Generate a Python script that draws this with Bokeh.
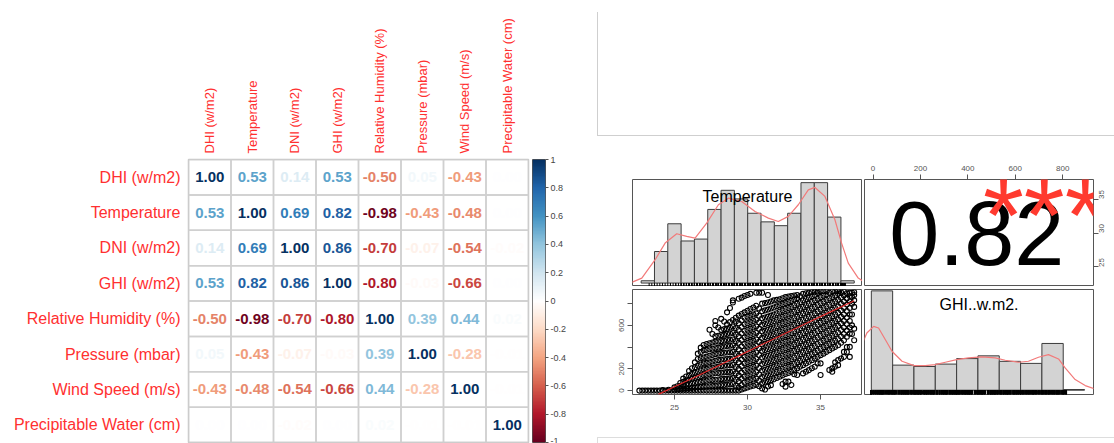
import math
import numpy as np
from bokeh.plotting import figure
from bokeh.models import (FactorRange, Range1d, LinearAxis, FixedTicker,
                          LinearColorMapper, ColumnDataSource, Div, Spacer)
from bokeh.layouts import row, column
from bokeh.transform import linear_cmap
from bokeh.core.properties import value
from bokeh.embed import file_html
from bokeh.resources import INLINE

FONT = "Liberation Sans"
RED = "#FF3030"

# ---------------- data: correlation matrix ----------------
variables = ["DHI (w/m2)", "Temperature", "DNI (w/m2)", "GHI (w/m2)",
             "Relative Humidity (%)", "Pressure (mbar)", "Wind Speed (m/s)",
             "Precipitable Water (cm)"]
corr_dhi = [1.00, 0.53, 0.14, 0.53, -0.50, 0.05, -0.43, 0.00]
corr_temp = [0.53, 1.00, 0.69, 0.82, -0.98, -0.43, -0.48, 0.00]
corr_dni = [0.14, 0.69, 1.00, 0.86, -0.70, -0.07, -0.54, -0.02]
corr_ghi = [0.53, 0.82, 0.86, 1.00, -0.80, -0.03, -0.66, 0.00]
corr_rh = [-0.50, -0.98, -0.70, -0.80, 1.00, 0.39, 0.44, 0.02]
corr_pres = [0.05, -0.43, -0.07, -0.03, 0.39, 1.00, -0.28, -0.01]
corr_wind = [-0.43, -0.48, -0.54, -0.66, 0.44, -0.28, 1.00, -0.01]
corr_pw = [0.00, 0.00, -0.02, 0.00, 0.02, -0.01, -0.01, 1.00]
corr_rows = [corr_dhi, corr_temp, corr_dni, corr_ghi, corr_rh, corr_pres, corr_wind, corr_pw]

cb_ticks = [-1, -0.8, -0.6, -0.4, -0.2, 0, 0.2, 0.4, 0.6, 0.8, 1]
cb_labels = ["-1", "-0.8", "-0.6", "-0.4", "-0.2", "0", "0.2", "0.4", "0.6", "0.8", "1"]

# ---------------- data: pairs panel (Temperature vs GHI) ----------------
temp_breaks = [22, 23, 24, 25, 26, 27, 28, 29, 30, 31, 32, 33, 34, 35, 36, 37, 38]
temp_density = [0.0024, 0.033, 0.062, 0.044, 0.046, 0.077, 0.097, 0.088, 0.073,
                0.064, 0.060, 0.073, 0.105, 0.105, 0.069, 0.0024]
temp_kde_x = [21.29, 22.05, 23.05, 23.80, 24.67, 25.42, 26.05, 26.92, 27.80, 28.55,
              29.55, 30.55, 31.55, 32.30, 33.05, 33.80, 34.55, 35.05, 35.80, 36.55,
              37.05, 37.55, 38.30, 38.80]
temp_kde_y = [0.0007, 0.0052, 0.0244, 0.0418, 0.0516, 0.0488, 0.047, 0.0627, 0.0819,
              0.0888, 0.0853, 0.0749, 0.0679, 0.0644, 0.0697, 0.0819, 0.0975, 0.100,
              0.0906, 0.0662, 0.0418, 0.0209, 0.0052, 0.0007]

ghi_breaks = [0, 100, 200, 300, 400, 500, 600, 700, 800, 900, 1000]
ghi_density = [0.289, 0.073, 0.069, 0.076, 0.092, 0.100, 0.084, 0.078, 0.136, 0.002]
ghi_kde_x = [-44, -21, 11, 34, 66, 97, 144, 200, 253, 300, 347, 400, 456, 519, 581,
             628, 691, 737, 784, 831, 878, 909, 956, 1003, 1047]
ghi_kde_y = [0.1326, 0.1665, 0.1858, 0.181, 0.147, 0.1132, 0.0842, 0.0716, 0.0716,
             0.0745, 0.0813, 0.089, 0.0939, 0.0968, 0.0939, 0.0871, 0.0813, 0.0842,
             0.0958, 0.1036, 0.091, 0.0648, 0.031, 0.0135, 0.0039]

# scatter cloud read column by column (temperature, list of GHI values)
scatter_temp_cols = [22.6, 22.8, 23.0, 23.2, 23.4, 23.6, 23.8, 24.0, 24.2, 24.4, 24.6,
                     24.8, 25.0, 25.2, 25.4, 25.6, 25.8, 26.0, 26.2, 26.4, 26.6, 26.8,
                     27.0, 27.2, 27.4, 27.6, 27.8, 28.0, 28.2, 28.4, 28.6, 28.8, 29.0,
                     29.2, 29.4, 29.6, 29.8, 30.0, 30.2, 30.4, 30.6, 30.8, 31.0, 31.2,
                     31.4, 31.6, 31.8, 32.0, 32.2, 32.4, 32.6, 32.8, 33.0, 33.2, 33.4,
                     33.6, 33.8, 34.0, 34.2, 34.4, 34.6, 34.8, 35.0, 35.2, 35.4, 35.6,
                     35.8, 36.0, 36.2, 36.4, 36.6, 36.8, 37.0, 37.15, 37.3]
scatter_ghi_cols = [
    [0], [0], [0], [0], [0], [0], [0], [0], [0, 5], [0], [0, 8], [0], [0, 10, 30],
    [0, 12, 40],
    [0, 15, 45, 70],
    [0, 18, 48, 80, 110],
    [0, 20, 55, 95, 130],
    [0, 22, 58, 100, 140, 180],
    [0, 25, 65, 110, 155, 205],
    [0, 28, 70, 118, 165, 215, 260],
    [0, 30, 75, 125, 175, 230, 290, 340],
    [0, 32, 80, 132, 185, 240, 298, 355, 395],
    [0, 35, 85, 140, 195, 250, 305, 370, 420],
    [0, 38, 90, 145, 200, 255, 312, 375, 428],
    [0, 40, 95, 150, 205, 260, 320, 380, 435, 560],
    [0, 42, 98, 155, 210, 268, 328, 385, 442, 520],
    [0, 45, 100, 160, 215, 275, 335, 390, 450, 500, 600, 640],
    [0, 48, 102, 162, 220, 280, 340, 395, 452, 505, 580],
    [0, 50, 105, 165, 225, 285, 345, 400, 455, 510, 560, 660],
    [0, 52, 108, 168, 228, 288, 348, 405, 460, 515, 565, 635],
    [0, 55, 110, 170, 230, 290, 350, 410, 465, 520, 570, 610, 720],
    [0, 58, 112, 172, 232, 292, 352, 412, 468, 525, 580, 630, 760],
    [0, 60, 115, 175, 235, 295, 355, 415, 470, 530, 590, 650, 810, 830],
    [0, 45, 100, 158, 218, 278, 338, 398, 455, 515, 575, 635, 670],
    [0, 30, 85, 140, 200, 260, 320, 380, 440, 500, 560, 620, 690, 845],
    [10, 52, 108, 165, 225, 285, 345, 405, 465, 525, 585, 645, 705, 855],
    [20, 75, 130, 190, 250, 310, 370, 430, 490, 550, 610, 670, 720, 870],
    [28, 85, 140, 200, 260, 320, 380, 440, 500, 560, 620, 680, 735, 880],
    [37, 95, 150, 210, 270, 330, 390, 450, 510, 570, 630, 690, 750, 890],
    [45, 102, 160, 220, 280, 340, 400, 460, 520, 580, 640, 700, 765],
    [52, 110, 170, 230, 290, 350, 410, 470, 530, 590, 650, 710, 780, 900],
    [40, 90, 148, 208, 268, 328, 388, 448, 508, 568, 628, 688, 755, 900],
    [20, 67, 125, 185, 245, 305, 365, 425, 485, 545, 605, 665, 730, 800, 900],
    [10, 75, 132, 192, 252, 312, 372, 432, 492, 552, 612, 672, 738, 805],
    [37, 82, 140, 200, 260, 320, 380, 440, 500, 560, 620, 680, 745, 810, 880],
    [50, 93, 150, 210, 270, 330, 390, 450, 510, 570, 630, 690, 755, 820],
    [104, 160, 220, 280, 340, 400, 460, 520, 580, 640, 700, 765, 830],
    [116, 172, 232, 292, 352, 412, 472, 532, 592, 652, 712, 775, 835],
    [128, 185, 245, 305, 365, 425, 485, 545, 605, 665, 725, 785, 840],
    [60, 140, 198, 258, 318, 378, 438, 498, 558, 618, 678, 738, 795, 850],
    [36, 82, 152, 210, 270, 330, 390, 450, 510, 570, 630, 690, 750, 805, 860],
    [82, 162, 220, 280, 340, 400, 460, 520, 580, 640, 700, 760, 815, 865],
    [52, 173, 230, 290, 350, 410, 470, 530, 590, 650, 710, 770, 825, 870],
    [150, 188, 245, 305, 365, 425, 485, 545, 605, 665, 725, 785, 838, 875],
    [143, 204, 260, 320, 380, 440, 500, 560, 620, 680, 740, 800, 850, 880],
    [220, 275, 335, 395, 455, 515, 575, 635, 695, 755, 815, 870],
    [158, 234, 290, 350, 410, 470, 530, 590, 650, 710, 770, 830, 890],
    [173, 250, 305, 365, 425, 485, 545, 605, 665, 725, 785, 842, 895],
    [188, 265, 320, 380, 440, 500, 560, 620, 680, 740, 800, 855, 900],
    [205, 280, 335, 395, 455, 515, 575, 635, 695, 755, 815, 868, 905],
    [219, 295, 350, 410, 470, 530, 590, 650, 710, 770, 830, 880, 910],
    [250, 310, 368, 428, 488, 548, 608, 668, 728, 788, 845, 898, 912],
    [143, 250, 326, 385, 445, 505, 565, 625, 685, 745, 805, 860, 915],
    [340, 400, 460, 520, 580, 640, 700, 760, 820, 872, 915],
    [356, 415, 475, 535, 595, 655, 715, 775, 835, 885, 915],
    [190, 372, 430, 490, 550, 610, 670, 730, 790, 850, 900],
    [173, 204, 387, 445, 505, 565, 625, 685, 745, 805, 860, 915],
    [220, 260, 402, 460, 520, 580, 640, 700, 760, 820, 875, 912],
    [234, 280, 417, 475, 535, 595, 655, 715, 775, 835, 890, 915],
    [295, 440, 498, 558, 618, 678, 738, 798, 855, 905],
    [310, 356, 463, 520, 580, 640, 700, 760, 820, 875, 910],
    [356, 400, 495, 552, 612, 672, 732, 792, 848, 895],
    [310, 402, 524, 580, 640, 700, 760, 820, 870, 900],
    [520, 600, 700, 800, 860, 900],
    [463, 570, 770, 830, 880, 905],
]
smooth_temp = [23.9, 25.0, 26.5, 28.0, 29.5, 31.0, 32.5, 34.0, 35.5, 37.3]
smooth_ghi = [-35, 35, 130, 228, 326, 424, 521, 617, 713, 827]

cor_value = 0.82
cor_stars = "***"
label_temp = "Temperature"
label_ghi = "GHI..w.m2."
ghi_axis_ticks = [0, 200, 400, 600, 800]
ghi_axis_labels_left = ["0", "200", "", "600", ""]
temp_axis_ticks = [25, 30, 35]

# ranges of the pairs panels (R usr limits)
temp_lim = (22.13, 37.87)
ghi_lim = (-36, 930)
temp_hist_xlim = (21.35, 38.62)
temp_hist_ylim = (-0.0036, 0.1083)
ghi_hist_xlim = (-32, 1042)
ghi_hist_ylim = (-0.0125, 0.293)

# ---------------- palette (corrplot RdBu) ----------------
anchors = ["#67001F", "#B2182B", "#D6604D", "#F4A582", "#FDDBC7", "#FFFFFF",
           "#D1E5F0", "#92C5DE", "#4393C3", "#2166AC", "#053061"]


def _rgb(h):
    return [int(h[i:i + 2], 16) for i in (1, 3, 5)]


palette = []
for i in range(200):
    t = i / 199 * (len(anchors) - 1)
    k = min(int(t), len(anchors) - 2)
    f = t - k
    c0, c1 = _rgb(anchors[k]), _rgb(anchors[k + 1])
    palette.append("#%02x%02x%02x" % tuple(int(round(c0[j] + (c1[j] - c0[j]) * f)) for j in range(3)))
mapper = LinearColorMapper(palette=palette, low=-1, high=1)

# ---------------- correlation plot ----------------
xs, ys, vals, labs = [], [], [], []
for rname, rvals in zip(variables, corr_rows):
    for cname, v in zip(variables, rvals):
        xs.append(cname)
        ys.append(rname)
        vals.append(v)
        labs.append("%.2f" % v)
src = ColumnDataSource(dict(x=xs, y=ys, val=vals, label=labs))

cp = figure(width=530, height=443, x_range=FactorRange(factors=variables),
            y_range=FactorRange(factors=variables[::-1]), x_axis_location="above",
            toolbar_location=None, output_backend="svg",
            min_border_left=188, min_border_right=2, min_border_top=159, min_border_bottom=1)
for ax in (cp.xaxis[0], cp.yaxis[0]):
    ax.axis_line_color = None
    ax.major_tick_line_color = None
    ax.major_tick_out = 0
    ax.major_tick_in = 0
    ax.minor_tick_line_color = None
    ax.major_label_text_color = RED
    ax.major_label_text_font = FONT
cp.xaxis.major_label_orientation = "vertical"
cp.xaxis.major_label_text_font_size = "13px"
cp.xaxis.major_label_standoff = 6
cp.yaxis.major_label_text_font_size = "16px"
cp.yaxis.major_label_standoff = 8
cp.grid.grid_line_color = None
cp.outline_line_color = "#C8C8C8"
cp.outline_line_width = 1.5

cp.rect(x="x", y="y", width=1, height=1, fill_color=None, line_color="#D0D0D0",
        line_width=1.5, source=src)
cp.text(x="x", y="y", text="label", source=src,
        text_color=linear_cmap("val", palette, -1, 1),
        text_align="center", text_baseline="middle", text_font=value(FONT),
        text_font_style="bold", text_font_size="15px")

# colour bar drawn as its own small plot
cbf = figure(width=67, height=443, x_range=Range1d(0, 1), y_range=Range1d(-1, 1),
             x_axis_type=None, y_axis_type=None, toolbar_location=None,
             output_backend="svg", min_border_left=2, min_border_right=52,
             min_border_top=159, min_border_bottom=1)
cbf.image(image=[np.linspace(-1, 1, 400).reshape(400, 1)], x=0, y=-1, dw=1, dh=2,
          color_mapper=mapper)
cbf.outline_line_color = "#555555"
cbf.outline_line_width = 1
cb_axis = LinearAxis(ticker=FixedTicker(ticks=cb_ticks),
                     major_label_overrides=dict(zip(cb_ticks, cb_labels)))
cb_axis.axis_line_color = None
cb_axis.major_tick_in = 0
cb_axis.major_tick_out = 3
cb_axis.major_tick_line_color = "#555555"
cb_axis.minor_tick_line_color = None
cb_axis.major_label_standoff = 2
cb_axis.major_label_text_font = FONT
cb_axis.major_label_text_font_size = "9px"
cb_axis.major_label_text_color = "#444444"
cbf.add_layout(cb_axis, "right")


# ---------------- pairs panels ----------------
def panel(width, height, xr, yr, bl, br, bt, bb):
    f = figure(width=width, height=height, x_range=Range1d(*xr), y_range=Range1d(*yr),
               x_axis_type=None, y_axis_type=None, toolbar_location=None,
               output_backend="svg", min_border_left=bl, min_border_right=br,
               min_border_top=bt, min_border_bottom=bb)
    f.outline_line_color = "#555555"
    f.outline_line_width = 1
    f.extra_x_ranges = {"u": Range1d(0, 1)}
    f.extra_y_ranges = {"u": Range1d(0, 1)}
    return f


def style_axis(ax, ticks, overrides=None, standoff=3):
    ax.ticker = FixedTicker(ticks=ticks)
    if overrides:
        ax.major_label_overrides = overrides
    ax.axis_line_color = None
    ax.major_tick_in = 0
    ax.major_tick_out = 5
    ax.major_tick_line_color = "#555555"
    ax.minor_tick_line_color = None
    ax.major_label_text_font = FONT
    ax.major_label_text_font_size = "8px"
    ax.major_label_text_color = "#555555"
    ax.major_label_standoff = standoff


scatter_t, scatter_g = [], []
for tcol, gcol in zip(scatter_temp_cols, scatter_ghi_cols):
    for g in gcol:
        scatter_t.append(tcol)
        scatter_g.append(g)

# top-left: Temperature histogram
f11 = panel(265, 150, temp_hist_xlim, temp_hist_ylim, 35, 0, 43, 0)
f11.quad(left=temp_breaks[:-1], right=temp_breaks[1:], bottom=0, top=temp_density,
         fill_color="#D3D3D3", line_color="#3C3C3C", line_width=1)
f11.segment(x0=scatter_t, x1=scatter_t, y0=temp_hist_ylim[0], y1=0,
            line_color="black", line_width=1)
f11.line(temp_kde_x, temp_kde_y, line_color="#F27A7A", line_width=1.2)
f11.text(x=[0.5], y=[0.84], text=[label_temp], x_range_name="u", y_range_name="u",
         text_align="center", text_baseline="middle", text_font=value(FONT),
         text_font_size="16px", text_color="black")

# top-right: correlation value
f12 = panel(252, 150, ghi_lim, temp_lim, 2, 21, 43, 0)
ax_top = LinearAxis()
style_axis(ax_top, ghi_axis_ticks, standoff=4)
f12.add_layout(ax_top, "above")
ax_right = LinearAxis()
style_axis(ax_right, temp_axis_ticks, standoff=3)
ax_right.major_label_orientation = math.pi / 2
f12.add_layout(ax_right, "right")
f12.text(x=[0.49], y=[0.5], text=["%.2f" % cor_value], x_range_name="u", y_range_name="u",
         text_align="center", text_baseline="alphabetic",
         text_font=value(FONT), text_font_size="90px", text_color="black")
f12.text(x=[0.785], y=[0.66], text=[cor_stars], x_range_name="u", y_range_name="u",
         text_align="center", text_baseline="alphabetic",
         text_font=value(FONT), text_font_size="105px", text_color="#FF3A2F")

# bottom-left: scatter
f21 = panel(265, 130, temp_lim, ghi_lim, 35, 0, 3, 22)
ax_left = LinearAxis()
style_axis(ax_left, ghi_axis_ticks, dict(zip(ghi_axis_ticks, ghi_axis_labels_left)), standoff=3)
ax_left.major_label_orientation = "vertical"
f21.add_layout(ax_left, "left")
ax_bottom = LinearAxis()
style_axis(ax_bottom, temp_axis_ticks, standoff=5)
f21.add_layout(ax_bottom, "below")
f21.scatter(scatter_t, scatter_g, marker="circle", size=5, fill_color=None,
            line_color="black", line_width=1.1)
f21.line(smooth_temp, smooth_ghi, line_color="#E02828", line_width=1.2)

# bottom-right: GHI histogram
f22 = panel(252, 130, ghi_hist_xlim, ghi_hist_ylim, 2, 21, 3, 22)
f22.quad(left=ghi_breaks[:-1], right=ghi_breaks[1:], bottom=0, top=ghi_density,
         fill_color="#D3D3D3", line_color="#3C3C3C", line_width=1)
f22.segment(x0=scatter_g, x1=scatter_g, y0=ghi_hist_ylim[0], y1=0,
            line_color="black", line_width=1.2)
f22.line(ghi_kde_x, ghi_kde_y, line_color="#F27A7A", line_width=1.2)
f22.text(x=[0.5], y=[0.857], text=[label_ghi], x_range_name="u", y_range_name="u",
         text_align="center", text_baseline="middle", text_font=value(FONT),
         text_font_size="16px", text_color="black")

# ---------------- right column with frames ----------------
blank_box = Div(text="", width=517, height=124, margin=0,
                styles={"border-left": "1px solid #cfcfcf", "border-bottom": "1px solid #cfcfcf",
                        "box-sizing": "border-box"})
bottom_box = Div(text="", width=517, height=6, margin=0,
                 styles={"border-top": "1px solid #dddddd", "border-left": "1px solid #dddddd",
                         "box-sizing": "border-box"})
right_col = column(Spacer(width=517, height=12), blank_box, row(f11, f12), row(f21, f22),
                   Spacer(width=517, height=21), bottom_box)
layout = row(cp, cbf, right_col)

open("out.html", "w").write(file_html(layout, INLINE))
